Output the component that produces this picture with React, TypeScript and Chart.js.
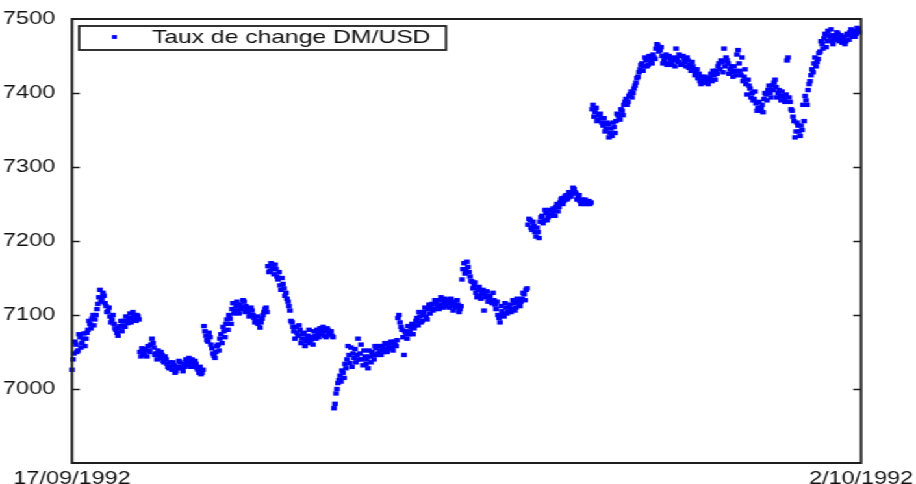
import React, { useEffect, useRef } from "react";
import { Chart, registerables } from "chart.js";

Chart.register(...registerables);

// Intraday DM/USD quotes, one pair of arrays per trading session.
// x is the running observation number, y the quote (DM per USD x 10^4).
// "Even" quotes sit on whole observation numbers, "odd" quotes half a step later.
const SERIES_LABEL = "Taux de change DM/USD";
const DATE_START = "17/09/1992";
const DATE_END = "2/10/1992";

const Y_MIN = 6900;
const Y_MAX = 7500;
const Y_STEP = 100;
const LAST_OBS = 394.5;

const session1Start = 0;
const session1Even = [
  7026, 7048, 7060, 7052, 7070, 7062, 7075, 7068, 7080, 7088, 7095, 7086, 7100, 7115, 7134, 7122, 7126,
  7112, 7105, 7098, 7094, 7088, 7080, 7072, 7085, 7078, 7092, 7098, 7089, 7102, 7095, 7100, 7092, 7098,
];
const session1Odd = [
  7040, 7064, 7050, 7074, 7056, 7068, 7058, 7076, 7092, 7082, 7100, 7094, 7108, 7124, 7118, 7130, 7116,
  7104, 7110, 7090, 7100, 7082, 7076, 7082, 7092, 7086, 7084, 7092, 7096, 7090, 7104, 7094, 7100, 7094,
];

const session2Start = 34;
const session2Even = [
  7050, 7055, 7046, 7052, 7058, 7050, 7068, 7056, 7048, 7052, 7042, 7046, 7036, 7040, 7030, 7036,
  7026, 7032, 7024, 7030, 7036, 7028, 7034, 7040, 7032, 7036, 7040, 7030, 7034, 7026, 7030, 7022,
];
const session2Odd = [
  7044, 7048, 7054, 7044, 7052, 7060, 7062, 7046, 7040, 7046, 7050, 7038, 7044, 7034, 7028, 7030,
  7036, 7022, 7028, 7038, 7030, 7024, 7030, 7036, 7042, 7030, 7034, 7038, 7028, 7022, 7020, 7026,
];

const session3Start = 66;
const session3Even = [
  7085, 7072, 7064, 7070, 7055, 7045, 7050, 7060, 7068, 7062, 7078, 7088, 7080, 7095, 7108, 7102,
  7112, 7106, 7114, 7110, 7118, 7112, 7105, 7100, 7106, 7096, 7092, 7088, 7083, 7095, 7104, 7110,
];
const session3Odd = [
  7078, 7066, 7076, 7060, 7048, 7042, 7058, 7052, 7074, 7084, 7070, 7094, 7100, 7088, 7116, 7106,
  7118, 7102, 7108, 7120, 7104, 7108, 7098, 7110, 7100, 7090, 7098, 7092, 7090, 7100, 7108, 7104,
];

const session4Start = 98;
const session4Even = [
  7166, 7160, 7168, 7155, 7162, 7148, 7140, 7150, 7136, 7130, 7118, 7106, 7090, 7078, 7084, 7072, 7080,
  7068, 7076, 7064, 7072, 7062, 7070, 7078, 7068, 7075, 7082, 7074, 7078, 7070, 7080, 7076, 7072,
];
const session4Odd = [
  7158, 7170, 7162, 7168, 7152, 7158, 7134, 7142, 7126, 7122, 7112, 7092, 7084, 7068, 7076, 7086, 7062,
  7074, 7058, 7068, 7080, 7066, 7060, 7072, 7080, 7070, 7078, 7084, 7072, 7082, 7074, 7078, 7070,
];

const session5Start = 131;
const session5Even = [
  6974, 6994, 7008, 7018, 7025, 7015, 7028, 7058, 7035, 7030, 7042, 7036, 7068, 7048, 7040, 7052,
  7034, 7028, 7044, 7050, 7040, 7055, 7048, 7052, 7058, 7050, 7060, 7054, 7062, 7056, 7064, 7058,
  7096, 7090, 7080, 7046, 7074, 7085, 7078, 7088, 7082, 7092, 7086, 7098, 7092, 7104, 7098, 7108,
  7102, 7115, 7108, 7118, 7112, 7120, 7114, 7118, 7112, 7120, 7116, 7112, 7118, 7110, 7114, 7108,
];
const session5Odd = [
  6980, 7000, 7012, 7010, 7022, 7034, 7040, 7046, 7056, 7048, 7054, 7046, 7040, 7060, 7032, 7044,
  7040, 7052, 7036, 7046, 7058, 7046, 7058, 7046, 7054, 7062, 7050, 7058, 7064, 7052, 7060, 7066,
  7100, 7084, 7070, 7078, 7068, 7074, 7084, 7074, 7086, 7096, 7104, 7090, 7100, 7110, 7094, 7114,
  7110, 7106, 7120, 7114, 7108, 7124, 7110, 7122, 7116, 7110, 7122, 7106, 7114, 7120, 7104, 7112,
];

const session6Start = 195;
const session6Even = [
  7148, 7170, 7160, 7165, 7152, 7145, 7140, 7130, 7134, 7126, 7130, 7106, 7124, 7118, 7126, 7116, 7120,
  7108, 7100, 7090, 7105, 7098, 7110, 7104, 7114, 7108, 7116, 7110, 7118, 7112, 7122, 7128, 7134,
];
const session6Odd = [
  7162, 7156, 7172, 7158, 7146, 7136, 7144, 7124, 7138, 7122, 7134, 7128, 7132, 7122, 7118, 7130, 7114,
  7118, 7096, 7112, 7100, 7116, 7102, 7110, 7104, 7120, 7106, 7122, 7114, 7118, 7130, 7120, 7136,
];

const session7Start = 228;
const session7Even = [
  7222, 7228, 7215, 7220, 7206, 7212, 7226, 7234, 7228, 7238, 7232, 7242, 7236, 7240, 7246, 7240,
  7252, 7258, 7254, 7262, 7258, 7262, 7266, 7270, 7264, 7258, 7254, 7256, 7250, 7254, 7252, 7250,
];
const session7Odd = [
  7230, 7218, 7226, 7212, 7218, 7204, 7232, 7224, 7242, 7228, 7236, 7234, 7244, 7234, 7250, 7246,
  7256, 7250, 7260, 7256, 7266, 7260, 7272, 7266, 7256, 7262, 7250, 7252, 7256, 7250, 7254, 7252,
];

const session8Start = 260;
const session8Even = [
  7378, 7368, 7380, 7364, 7372, 7360, 7366, 7352, 7358, 7346, 7342, 7354, 7362, 7370, 7364, 7376,
  7384, 7392, 7388, 7398, 7394, 7406, 7414, 7422, 7432, 7440, 7436, 7444, 7438, 7446, 7440, 7448,
  7460, 7464, 7458, 7450, 7444, 7452, 7440, 7446, 7438, 7448, 7460, 7442, 7450, 7440, 7446, 7436,
  7444, 7438, 7442, 7432, 7428, 7420, 7416, 7422, 7414, 7418, 7412, 7420, 7416, 7424, 7430, 7436,
  7432, 7442, 7460, 7448, 7440, 7432, 7428, 7436, 7424, 7458, 7430, 7448, 7422, 7412, 7418, 7406,
];
const session8Odd = [
  7384, 7374, 7362, 7370, 7366, 7356, 7348, 7360, 7340, 7352, 7360, 7346, 7372, 7366, 7378, 7370,
  7388, 7384, 7396, 7402, 7400, 7410, 7420, 7428, 7438, 7430, 7448, 7436, 7450, 7442, 7452, 7446,
  7466, 7456, 7462, 7440, 7448, 7438, 7450, 7440, 7444, 7436, 7446, 7452, 7438, 7450, 7442, 7448,
  7434, 7430, 7436, 7424, 7432, 7426, 7412, 7416, 7422, 7414, 7418, 7426, 7430, 7418, 7426, 7440,
  7444, 7428, 7436, 7444, 7426, 7436, 7422, 7430, 7452, 7440, 7424, 7416, 7432, 7398, 7410, 7394,
];

const session9Start = 340;
const session9Even = [
  7400, 7392, 7386, 7380, 7376, 7384, 7392, 7398, 7404, 7400, 7410, 7414, 7408, 7400, 7396, 7402,
  7392, 7398, 7448, 7388, 7376, 7362, 7348, 7356, 7342, 7350, 7362, 7390, 7404, 7416, 7432, 7440,
  7436, 7446, 7456, 7466, 7474, 7462, 7484, 7476, 7470, 7478, 7472, 7480, 7474, 7468, 7476, 7470,
  7478, 7482, 7476, 7484, 7480, 7486,
];
const session9Odd = [
  7390, 7402, 7376, 7388, 7380, 7374, 7400, 7390, 7410, 7394, 7404, 7418, 7394, 7404, 7390, 7396,
  7388, 7444, 7394, 7378, 7368, 7340, 7360, 7348, 7356, 7384, 7396, 7384, 7412, 7424, 7428, 7448,
  7442, 7454, 7470, 7460, 7480, 7470, 7478, 7486, 7466, 7474, 7482, 7470, 7478, 7472, 7466, 7480,
  7472, 7486, 7480, 7476, 7488, 7482,
];

const sessions: Array<[number, number[], number[]]> = [
  [session1Start, session1Even, session1Odd],
  [session2Start, session2Even, session2Odd],
  [session3Start, session3Even, session3Odd],
  [session4Start, session4Even, session4Odd],
  [session5Start, session5Even, session5Odd],
  [session6Start, session6Even, session6Odd],
  [session7Start, session7Even, session7Odd],
  [session8Start, session8Even, session8Odd],
  [session9Start, session9Even, session9Odd],
];

// Logical canvas size; the figure is widened horizontally on screen.
const CANVAS_W = 705;
const CANVAS_H = 484;
const SCREEN_W = 916;

const FONT_FAMILY = "'Liberation Sans', Arial, Helvetica, sans-serif";
const MARKER_COLOR = "#0000ff";
const FRAME_COLOR = "#1e1e1e";

const framePlugin = {
  id: "frameAndTicks",
  afterDraw(chart: any) {
    const { ctx, chartArea } = chart;
    const { left, right, top, bottom } = chartArea;
    const yScale = chart.scales.y;
    ctx.save();
    ctx.strokeStyle = FRAME_COLOR;
    ctx.lineWidth = 2;
    ctx.strokeRect(left, top, right - left, bottom - top);
    // inward tick marks on both vertical sides
    ctx.lineWidth = 1.6;
    for (const t of yScale.ticks) {
      if (t.value <= Y_MIN || t.value >= Y_MAX) continue;
      const py = Math.round(yScale.getPixelForValue(t.value)) + 0.5;
      ctx.beginPath();
      ctx.moveTo(left, py);
      ctx.lineTo(left + 6, py);
      ctx.moveTo(right, py);
      ctx.lineTo(right - 6, py);
      ctx.stroke();
    }
    ctx.restore();
  },
};

const legendBoxPlugin = {
  id: "legendBox",
  afterDraw(chart: any) {
    const { ctx, chartArea } = chart;
    const ds = chart.data.datasets[0];
    const boxLeft = chartArea.left + 5.5;
    const boxTop = chartArea.top + 7;
    const boxH = 24;
    const textX = chartArea.left + 61.5;
    ctx.save();
    ctx.font = `19px ${FONT_FAMILY}`;
    const tw = ctx.measureText(ds.label).width;
    const boxW = textX + tw + 12 - boxLeft;
    ctx.fillStyle = "#ffffff";
    ctx.fillRect(boxLeft, boxTop, boxW, boxH);
    ctx.strokeStyle = FRAME_COLOR;
    ctx.lineWidth = 1.8;
    ctx.strokeRect(boxLeft, boxTop, boxW, boxH);
    ctx.fillStyle = MARKER_COLOR;
    const mx = chartArea.left + 32.7;
    const my = boxTop + 11;
    ctx.fillRect(mx - 1.9, my - 1.9, 3.8, 3.8);
    ctx.fillStyle = "#111111";
    ctx.textBaseline = "alphabetic";
    ctx.textAlign = "left";
    ctx.fillText(ds.label, textX, boxTop + 17);
    ctx.restore();
  },
};

export default function App() {
  const canvasRef = useRef<HTMLCanvasElement | null>(null);

  useEffect(() => {
    const canvas = canvasRef.current;
    if (!canvas) return;

    const points: { x: number; y: number }[] = [];
    for (const [start, even, odd] of sessions) {
      even.forEach((v, k) => {
        points.push({ x: start + k, y: v });
        if (k < odd.length) points.push({ x: start + k + 0.5, y: odd[k] });
      });
    }

    const chart = new Chart(canvas, {
      type: "scatter",
      data: {
        datasets: [
          {
            label: SERIES_LABEL,
            data: points,
            pointStyle: "rect",
            pointRadius: 3.1,
            pointBorderWidth: 0,
            backgroundColor: MARKER_COLOR,
            borderColor: MARKER_COLOR,
            showLine: false,
            clip: false,
          } as any,
        ],
      },
      options: {
        animation: false,
        responsive: false,
        devicePixelRatio: 1,
        layout: { padding: { top: 19, right: 42.3, left: 0, bottom: 0 } },
        plugins: {
          legend: { display: false },
          tooltip: { enabled: false },
        },
        scales: {
          x: {
            type: "linear",
            min: 0,
            max: LAST_OBS,
            grid: { display: false },
            border: { display: false },
            afterBuildTicks: (axis: any) => {
              axis.ticks = [{ value: 0 }, { value: LAST_OBS }];
            },
            afterFit: (axis: any) => {
              axis.height = 21;
            },
            ticks: {
              autoSkip: false,
              maxRotation: 0,
              padding: -1,
              color: "#111111",
              font: { family: FONT_FAMILY, size: 18, lineHeight: 1 },
              callback: (v: any) => (Number(v) === 0 ? DATE_START : DATE_END),
            },
          },
          y: {
            type: "linear",
            min: Y_MIN,
            max: Y_MAX,
            grid: { display: false },
            border: { display: false },
            afterFit: (axis: any) => {
              axis.width = 55.4;
            },
            ticks: {
              stepSize: Y_STEP,
              padding: 5,
              color: "#111111",
              font: { family: FONT_FAMILY, size: 18 },
              callback: (v: any) => (Number(v) === Y_MIN ? "" : String(v)),
            },
          },
        },
      },
      plugins: [framePlugin, legendBoxPlugin],
    });

    return () => chart.destroy();
  }, []);

  return (
    <div
      style={{
        position: "absolute",
        left: 0,
        top: 0,
        width: CANVAS_W,
        height: CANVAS_H,
        background: "#ffffff",
        transform: `scaleX(${SCREEN_W / CANVAS_W})`,
        transformOrigin: "0 0",
      }}
    >
      <canvas ref={canvasRef} width={CANVAS_W} height={CANVAS_H} style={{ display: "block" }} />
    </div>
  );
}
